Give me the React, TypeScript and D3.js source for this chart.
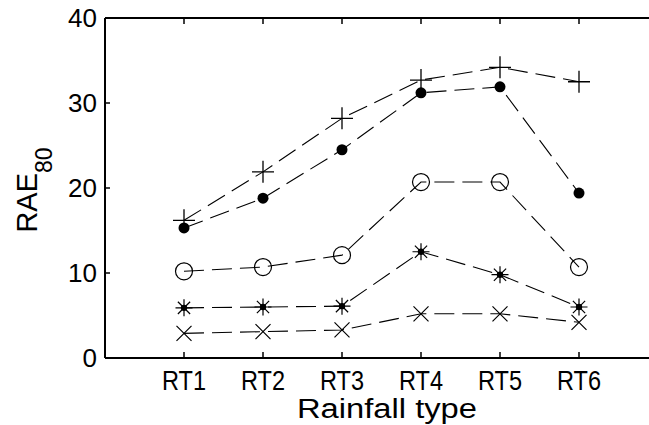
import React from "react";
import * as d3 from "d3";

const categories = ["RT1", "RT2", "RT3", "RT4", "RT5", "RT6"];
const yTicks = [0, 10, 20, 30, 40];
const plusSeries = [16.2, 21.9, 28.2, 32.7, 34.2, 32.5];
const dotSeries = [15.3, 18.8, 24.5, 31.2, 31.9, 19.4];
const circleSeries = [10.2, 10.7, 12.1, 20.7, 20.7, 10.7];
const starSeries = [5.9, 6.0, 6.1, 12.5, 9.8, 6.0];
const xSeries = [2.9, 3.1, 3.3, 5.2, 5.2, 4.2];

const W = 649;
const H = 425;
const FONT = "'Liberation Sans', Arial, Helvetica, sans-serif";

type Marker = "plus" | "dot" | "circle" | "star" | "x";

const seriesList: { values: number[]; marker: Marker }[] = [
  { values: plusSeries, marker: "plus" },
  { values: dotSeries, marker: "dot" },
  { values: circleSeries, marker: "circle" },
  { values: starSeries, marker: "star" },
  { values: xSeries, marker: "x" },
];

function MarkerShape({ type, cx, cy }: { type: Marker; cx: number; cy: number }) {
  const s = "#000";
  if (type === "plus") {
    const r = 11;
    return (
      <path d={`M${cx - r},${cy}H${cx + r}M${cx},${cy - r}V${cy + r}`} stroke={s} strokeWidth={1.3} fill="none" />
    );
  }
  if (type === "dot") {
    return <circle cx={cx} cy={cy} r={5.5} fill={s} />;
  }
  if (type === "circle") {
    return <circle cx={cx} cy={cy} r={8.5} fill="none" stroke={s} strokeWidth={1.2} />;
  }
  if (type === "star") {
    const r = 8.5;
    const d = r * 0.72;
    return (
      <g>
        <path
          d={`M${cx - r},${cy}H${cx + r}M${cx},${cy - r}V${cy + r}M${cx - d},${cy - d}L${cx + d},${cy + d}M${cx - d},${cy + d}L${cx + d},${cy - d}`}
          stroke={s}
          strokeWidth={1.2}
          fill="none"
        />
        <circle cx={cx} cy={cy} r={3.2} fill={s} />
      </g>
    );
  }
  const r = 7.5;
  return (
    <path d={`M${cx - r},${cy - r}L${cx + r},${cy + r}M${cx - r},${cy + r}L${cx + r},${cy - r}`} stroke={s} strokeWidth={1.2} fill="none" />
  );
}

export default function App() {
  const left = 105;
  const top = 18;
  const bottom = 358;
  const x = d3.scaleLinear().domain([0, 7]).range([left, 658]);
  const y = d3.scaleLinear().domain([0, 40]).range([bottom, top]);
  const line = d3
    .line<number>()
    .x((_, i) => x(i + 1))
    .y((v) => y(v));
  const right = x(7);

  return (
    <svg width={W} height={H} style={{ position: "absolute", left: 0, top: 0, background: "#fff" }}>
      <rect x={0} y={0} width={W} height={H} fill="#fff" />
      {/* data lines */}
      {seriesList.map((s, i) => (
        <path key={"l" + i} d={line(s.values) || ""} fill="none" stroke="#000" strokeWidth={1.1} strokeDasharray="20 8" />
      ))}
      {seriesList.map((s, i) =>
        s.values.map((v, j) => <MarkerShape key={"m" + i + "-" + j} type={s.marker} cx={x(j + 1)} cy={y(v)} />)
      )}
      {/* axes box */}
      <path d={`M${left},${top}H${right}M${left},${bottom}H${right}M${left},${top}V${bottom}`} stroke="#000" strokeWidth={2} fill="none" />
      {categories.map((c, i) => (
        <g key={c}>
          <line x1={x(i + 1)} x2={x(i + 1)} y1={bottom} y2={bottom - 6} stroke="#000" strokeWidth={1.5} />
          <line x1={x(i + 1)} x2={x(i + 1)} y1={top} y2={top + 6} stroke="#000" strokeWidth={1.5} />
          <text x={x(i + 1)} y={390} textAnchor="middle" fontFamily={FONT} fontSize={27} textLength={44} lengthAdjust="spacingAndGlyphs" fill="#000">
            {c}
          </text>
        </g>
      ))}
      {yTicks.map((t) => (
        <g key={t}>
          <line x1={left} x2={left + 5} y1={y(t)} y2={y(t)} stroke="#000" strokeWidth={1.5} />
          <text x={97} y={y(t) + 9} textAnchor="end" fontFamily={FONT} fontSize={26} fill="#000">
            {t}
          </text>
        </g>
      ))}
      <text x={387} y={418} textAnchor="middle" fontFamily={FONT} fontSize={27} textLength={180} lengthAdjust="spacingAndGlyphs" fill="#000">
        Rainfall type
      </text>
      <text transform="translate(37,190) rotate(-90)" textAnchor="middle" fontFamily={FONT} fontSize={29} fill="#000">
        RAE
        <tspan fontSize={23} dy={15}>
          80
        </tspan>
      </text>
    </svg>
  );
}
